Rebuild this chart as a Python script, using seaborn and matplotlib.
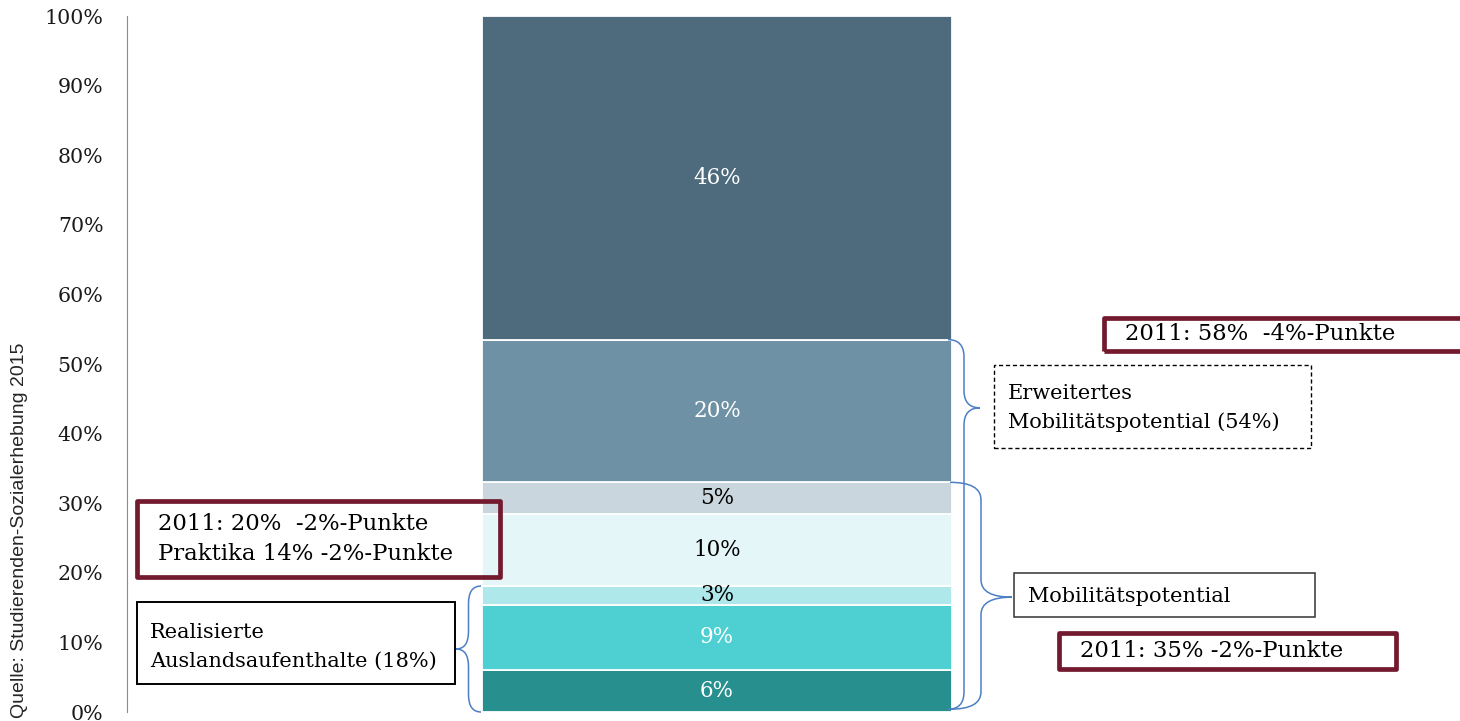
import numpy as np
import matplotlib.pyplot as plt
from matplotlib.patches import Rectangle, PathPatch
from matplotlib.path import Path
import seaborn as sns

# stacked shares (bottom -> top)
segment_values = [6.1, 9.3, 2.7, 10.3, 4.6, 20.5, 46.5]
segment_labels = ["6%", "9%", "3%", "10%", "5%", "20%", "46%"]
segment_colors = ["#27908F", "#4ECFD2", "#AEE8EA", "#E4F6F7", "#C9D6DE", "#6E91A5", "#4E6B7E"]
label_colors = ["white", "white", "black", "black", "black", "white", "white"]
y_ticks = list(range(0, 101, 10))
source_text = "Quelle: Studierenden-Sozialerhebung 2015"

# annotation texts
txt_2011_erw = "2011: 58%  -4%-Punkte"
txt_erw = "Erweitertes\nMobilitätspotential (54%)"
txt_mob = "Mobilitätspotential"
txt_2011_mob = "2011: 35% -2%-Punkte"
txt_2011_real = "2011: 20%  -2%-Punkte\nPraktika 14% -2%-Punkte"
txt_real = "Realisierte\nAuslandsaufenthalte (18%)"

W, H = 1460, 721
MAROON = "#741A2F"
BRACE = "#4D7FC4"

sns.set_style("white")
plt.rcParams["font.family"] = ["DejaVu Serif"]

fig = plt.figure(figsize=(W / 100, H / 100), dpi=100)
ax = fig.add_axes([127 / W, 9 / H, (W - 127) / W, 696 / H])

# draw the stacked bar segment by segment
bottoms = np.concatenate([[0], np.cumsum(segment_values)[:-1]])
for val, bot, col in zip(segment_values, bottoms, segment_colors):
    sns.barplot(x=["2015"], y=[val], bottom=bot, color=col, saturation=1,
                width=0.8, edgecolor="white", linewidth=1.3, errorbar=None, ax=ax)

for val, bot, lab, lc in zip(segment_values, bottoms, segment_labels, label_colors):
    ax.text(0, bot + val / 2, lab, ha="center", va="center", color=lc, fontsize=15.5)

# x scale: 1 data unit = 587.5 px, bar centre at 717 px
unit = 587.5
ax.set_xlim(-(717 - 127) / unit, (W - 717) / unit)
ax.set_ylim(0, 100)
ax.set_yticks(y_ticks)
ax.set_yticklabels([f"{t}%" for t in y_ticks])
ax.set_xticks([])
ax.set_xlabel("")
ax.set_ylabel("")
sns.despine(ax=ax, bottom=True)
ax.spines["left"].set_color("#8C8C8C")
ax.tick_params(axis="y", length=7, color="#8C8C8C", pad=10, labelsize=14.8, labelcolor="#1A1A1A")


def px2x(px):
    return (px - 717) / unit


def brace(x0, x1, y_bot, y_top, y_tip, r=2.5):
    xm = (x0 + x1) / 2
    verts = [(x0, y_top), (xm, y_top), (xm, y_top - r), (xm, y_tip + r),
             (xm, y_tip), (x1, y_tip), (xm, y_tip), (xm, y_tip - r),
             (xm, y_bot + r), (xm, y_bot), (x0, y_bot)]
    codes = [Path.MOVETO, Path.CURVE3, Path.CURVE3, Path.LINETO,
             Path.CURVE3, Path.CURVE3, Path.CURVE3, Path.CURVE3,
             Path.LINETO, Path.CURVE3, Path.CURVE3]
    ax.add_patch(PathPatch(Path(verts, codes), fill=False, edgecolor=BRACE,
                           linewidth=1.1, clip_on=False))


tops = np.cumsum(segment_values)
brace(px2x(948), px2x(980), 0.4, tops[5], 43.7)
brace(px2x(950), px2x(1012), 0.4, tops[4], tops[4] / 2)
brace(px2x(481), px2x(456), 0.0, tops[2], tops[2] / 2)


def box(x0, y0, x1, y1, **kw):
    fig.add_artist(Rectangle((x0 / W, 1 - y1 / H), (x1 - x0) / W, (y1 - y0) / H,
                             transform=fig.transFigure, fill=False, **kw))


def label(x, y, s, size=15, spacing=1.6, **kw):
    fig.text(x / W, 1 - y / H, s, ha="left", va="center", fontsize=size,
             linespacing=spacing, color="black", **kw)


maroon_kw = dict(edgecolor=MAROON, linewidth=3.4, joinstyle="round")

box(1104, 318, 1475, 351, **maroon_kw)
label(1125, 334, txt_2011_erw, size=16.4)

box(994, 365, 1311, 448, edgecolor="black", linewidth=1.0, linestyle=(0, (3, 2)))
label(1008, 408, txt_erw)

box(1014, 573, 1315, 617, edgecolor="#333333", linewidth=1.1)
label(1028, 596, txt_mob)

box(1059, 633, 1396, 669, **maroon_kw)
label(1080, 651, txt_2011_mob, size=16.4)

box(137, 501, 500, 577, **maroon_kw)
label(158, 539, txt_2011_real, size=16.4, spacing=1.45)

box(137, 602, 455, 684, edgecolor="black", linewidth=1.4)
label(150, 647, txt_real)

fig.text(20 / W, 1 - 530 / H, source_text, rotation=90, ha="center", va="center",
         fontsize=14, family=["Liberation Sans", "DejaVu Sans"])

fig.savefig("out.png", dpi=100)
